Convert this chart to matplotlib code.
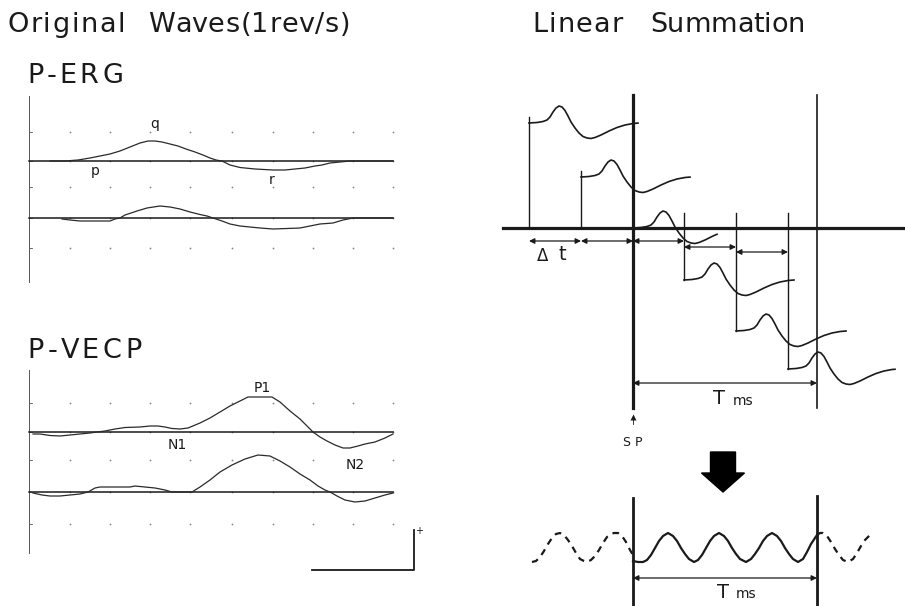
import matplotlib
matplotlib.use('Agg')
import matplotlib.pyplot as plt
import numpy as np

INK = '#1a1a1a'

# ---- left panel: recorded traces (x in px, deflection in px, up = positive)
erg1_x = [50, 65, 78, 90, 100, 110, 120, 130, 140, 148, 155, 162, 170, 178, 186, 195,
          203, 210, 216, 222, 230, 240, 255, 273, 285, 295, 305, 315, 322, 330, 340, 350, 360, 393]
erg1_v = [0, 0, 1, 3, 5, 7, 10, 14, 18, 20, 20, 19, 17, 15, 12, 9,
          6, 3, 1, 0, -4, -6.5, -8, -9, -9, -8, -7, -5, -4, -2, -1, 0, 0, 0]
erg2_x = [62, 70, 80, 95, 110, 115, 120, 125, 131, 137, 147, 160, 170, 180, 190, 200,
          207, 213, 222, 230, 240, 250, 260, 273, 287, 300, 310, 320, 333, 343, 353, 393]
erg2_v = [-1, -2, -3, -3, -3, -1, 0, 3, 5, 7, 10, 12, 11, 9, 6, 3.5,
          2, 0, -3, -6, -8, -9, -10, -11, -10.5, -10, -8, -6, -5, -2, 0, 0]
vecp1_x = [33, 40, 50, 60, 70, 80, 90, 97, 105, 115, 125, 140, 150, 158, 165, 172, 180, 188,
           200, 210, 220, 230, 240, 248, 260, 272, 280, 290, 300, 307, 313, 320, 327, 335,
           343, 350, 358, 365, 375, 385, 393]
vecp1_v = [-2, -2, -3.5, -4, -3, -2, -1, 0, 1, 3, 4.5, 5, 6, 6, 5, 3.5, 3, 4,
           9, 14, 20, 26, 31, 35, 35, 35, 30, 21, 13, 6, 0, -5, -9, -13,
           -16, -16, -14, -12, -10, -6, -2]
vecp2_x = [33, 42, 50, 60, 70, 80, 88, 95, 100, 115, 130, 135, 145, 155, 165, 172, 192,
           200, 210, 220, 232, 245, 258, 270, 280, 290, 300, 310, 318, 325, 330, 337,
           345, 355, 365, 375, 385, 393]
vecp2_v = [-1, -3, -4, -4, -3, -2, 0, 4, 5, 5, 5, 6, 5, 4, 2, 0, 0,
           5, 12, 20, 27, 33, 37, 36, 31, 25, 18, 12, 6, 2, 0, -4,
           -8, -10, -9, -6, -3, -1]

erg_base = [161, 218]
vecp_base = [432, 492]
erg_rows = [132, 161, 187, 218, 248]
vecp_rows = [403, 432, 460, 492, 524]
grid_cols = [70, 110, 150, 190, 232, 273, 313, 353, 393]

# ---- right panel: one response template and where each copy starts
tmpl_dx = [0, 8, 14, 18, 21, 24, 27, 30, 33, 36, 39, 42, 46, 50, 54, 58, 62, 66,
           72, 80, 88, 96, 104, 110]
tmpl_dy = [0, 0.5, 1.5, 3, 6, 11, 15, 17, 16, 12.5, 7, 1, -5, -10, -13.5, -15, -15.5, -14.5,
           -12, -8, -4.5, -2, -0.5, 0]
resp_x0 = [529, 581, 633, 684, 736, 788]
resp_y0 = [123, 177, 228, 280, 331, 369]
resp_len = [109, 109, 84, 113, 112, 107]

# summed wave (bottom)
sum_x = [633, 638, 643, 647, 651, 655, 659, 663, 668, 673, 677, 681, 685, 689, 694, 698,
         702, 706, 710, 714, 719, 724, 728, 732, 736, 740, 746, 751, 755, 759, 763, 767,
         772, 777, 781, 785, 789, 793, 798, 803, 807, 811, 817]
sum_y = [561, 562, 562, 560, 555, 548, 541, 536, 533, 536, 541, 548, 554, 559, 562, 560,
         555, 548, 541, 536, 533, 536, 541, 548, 554, 559, 562, 559, 554, 548, 541, 536,
         533, 536, 541, 548, 554, 559, 562, 559, 552, 544, 535]
dash_l_x = [532, 536, 540, 544, 548, 552, 556, 560, 564, 568, 572, 576, 580, 584, 587, 591,
            595, 599, 603, 607, 611, 614, 618, 622, 626, 630, 633]
dash_l_y = [562, 561, 557, 551, 544, 538, 534, 533, 535, 540, 546, 553, 559, 561, 562, 560,
            556, 550, 543, 537, 534, 533, 533, 536, 542, 550, 555]
dash_r_x = [817, 820, 823, 827, 831, 835, 839, 843, 848, 853, 857, 861, 865, 870]
dash_r_y = [535, 533, 533, 536, 542, 549, 555, 560, 562, 559, 553, 546, 540, 535]

fig = plt.figure(figsize=(9.05, 6.06), dpi=100)
ax = fig.add_axes([0, 0, 1, 1])
ax.set_xlim(0, 905)
ax.set_ylim(606, 0)
ax.axis('off')
rend = fig.canvas.get_renderer()


def spaced(x0, x1, y, s, size=19.5):
    # the scanned lettering is widely tracked: spread chars to fill x0..x1
    def w(t):
        if not t:
            return 0.0
        tmp = ax.text(0, 0, t, fontsize=size)
        ww = tmp.get_window_extent(rend).width
        tmp.remove()
        return ww
    n = len(s)
    extra = ((x1 - x0) - w(s)) / max(n - 1, 1)
    for i, ch in enumerate(s):
        ax.text(x0 + w(s[:i]) + i * extra, y, ch, fontsize=size, color=INK, va='baseline')


# titles
spaced(7, 125, 32, 'Original')
spaced(148, 350, 32, 'Waves(1rev/s)')
spaced(532, 623, 32, 'Linear')
spaced(650, 805, 32, 'Summation')
spaced(27, 123, 83, 'P-ERG')
spaced(27, 142, 358, 'P-VECP')


# left panel frames
def panel(top, bottom, rows, bases, traces):
    ax.plot([29, 29], [top, bottom], color='#555555', lw=0.7)
    for r in rows:
        ax.plot([29, 32], [r, r], color='#555555', lw=0.6)
        ax.plot(grid_cols, [r] * len(grid_cols), ls='none', marker='o', ms=1.3,
                color='#888888', mec='none')
    for b in bases:
        ax.plot([29, 393], [b, b], color=INK, lw=1.1)
    for (tx, tv), b in zip(traces, bases):
        ax.plot(tx, b - np.array(tv), color='#2a2a2a', lw=0.9)


panel(96, 282, erg_rows, erg_base, [(erg1_x, erg1_v), (erg2_x, erg2_v)])
panel(370, 553, vecp_rows, vecp_base, [(vecp1_x, vecp1_v), (vecp2_x, vecp2_v)])

ax.text(155, 131, 'q', fontsize=10, ha='center', va='bottom', color=INK)
ax.text(95, 171, 'p', fontsize=10, ha='center', va='center', color=INK)
ax.text(272, 180, 'r', fontsize=10, ha='center', va='center', color=INK)
ax.text(262, 388, 'P1', fontsize=10, ha='center', va='center', color=INK)
ax.text(177, 445, 'N1', fontsize=10, ha='center', va='center', color=INK)
ax.text(355, 465, 'N2', fontsize=10, ha='center', va='center', color=INK)

# scale bar
ax.plot([312, 414, 414], [570, 570, 530], color=INK, lw=1.3)
ax.text(419, 531, '+', fontsize=7, ha='center', va='center', color=INK)

# right panel axes
ax.plot([633, 633], [95, 408], color=INK, lw=2.3)
ax.plot([817, 817], [95, 408], color=INK, lw=1.2)
ax.plot([503, 905], [228, 228], color=INK, lw=2.3)

dx = np.array(tmpl_dx, dtype=float)
dy = np.array(tmpl_dy, dtype=float)
for i, (x0, y0, ln) in enumerate(zip(resp_x0, resp_y0, resp_len)):
    keep = dx <= ln
    xs = list(x0 + dx[keep])
    ys = list(y0 - dy[keep])
    if ln < dx[-1]:
        xs.append(x0 + ln)
        ys.append(y0 - np.interp(ln, dx, dy))
    ax.plot(xs, ys, color=INK, lw=1.2)
    if i < 2:
        ax.plot([x0, x0], [y0 - 6, 228], color=INK, lw=1.0)
    elif i > 2:
        ax.plot([x0, x0], [213, y0], color=INK, lw=1.0)


def dim(x1, x2, y, ms=8):
    ax.annotate('', xy=(x2, y), xytext=(x1, y),
                arrowprops=dict(arrowstyle='<|-|>', color=INK, lw=0.9,
                                mutation_scale=ms, shrinkA=0, shrinkB=0))


dim(529, 581, 241)
dim(581, 633, 241)
dim(633, 684, 241)
dim(684, 736, 247)
dim(736, 788, 252)
ax.text(543, 256, '\u0394', fontsize=12, ha='center', va='center', color=INK)
ax.text(562, 254, 't', fontsize=14, ha='center', va='center', color=INK)

dim(633, 817, 383)
ax.text(719, 399, 'T', fontsize=14, ha='center', va='center', color=INK)
ax.text(743, 401, 'ms', fontsize=10, ha='center', va='center', color=INK)

ax.plot([633], [417], marker='^', ms=5, color=INK, mec='none')
ax.plot([633, 633], [419, 424], color=INK, lw=0.6)
ax.text(633, 443, 'S P', fontsize=9, ha='center', va='center', color=INK)

# big arrow
ax.arrow(723, 452, 0, 40, width=25, head_width=43, head_length=19,
         length_includes_head=True, color='black')

# summation result
ax.plot([633, 633], [498, 606], color=INK, lw=2.0)
ax.plot([817, 817], [496, 606], color=INK, lw=2.0)
ax.plot(sum_x, sum_y, color=INK, lw=1.6)
ax.plot(dash_l_x, dash_l_y, color=INK, lw=1.6, ls=(0, (3, 2.5)))
ax.plot(dash_r_x, dash_r_y, color=INK, lw=1.6, ls=(0, (3, 2.5)))
dim(633, 817, 578)
ax.text(723, 592, 'T', fontsize=14, ha='center', va='center', color=INK)
ax.text(746, 594, 'ms', fontsize=10, ha='center', va='center', color=INK)

plt.savefig('out.png', dpi=100)
